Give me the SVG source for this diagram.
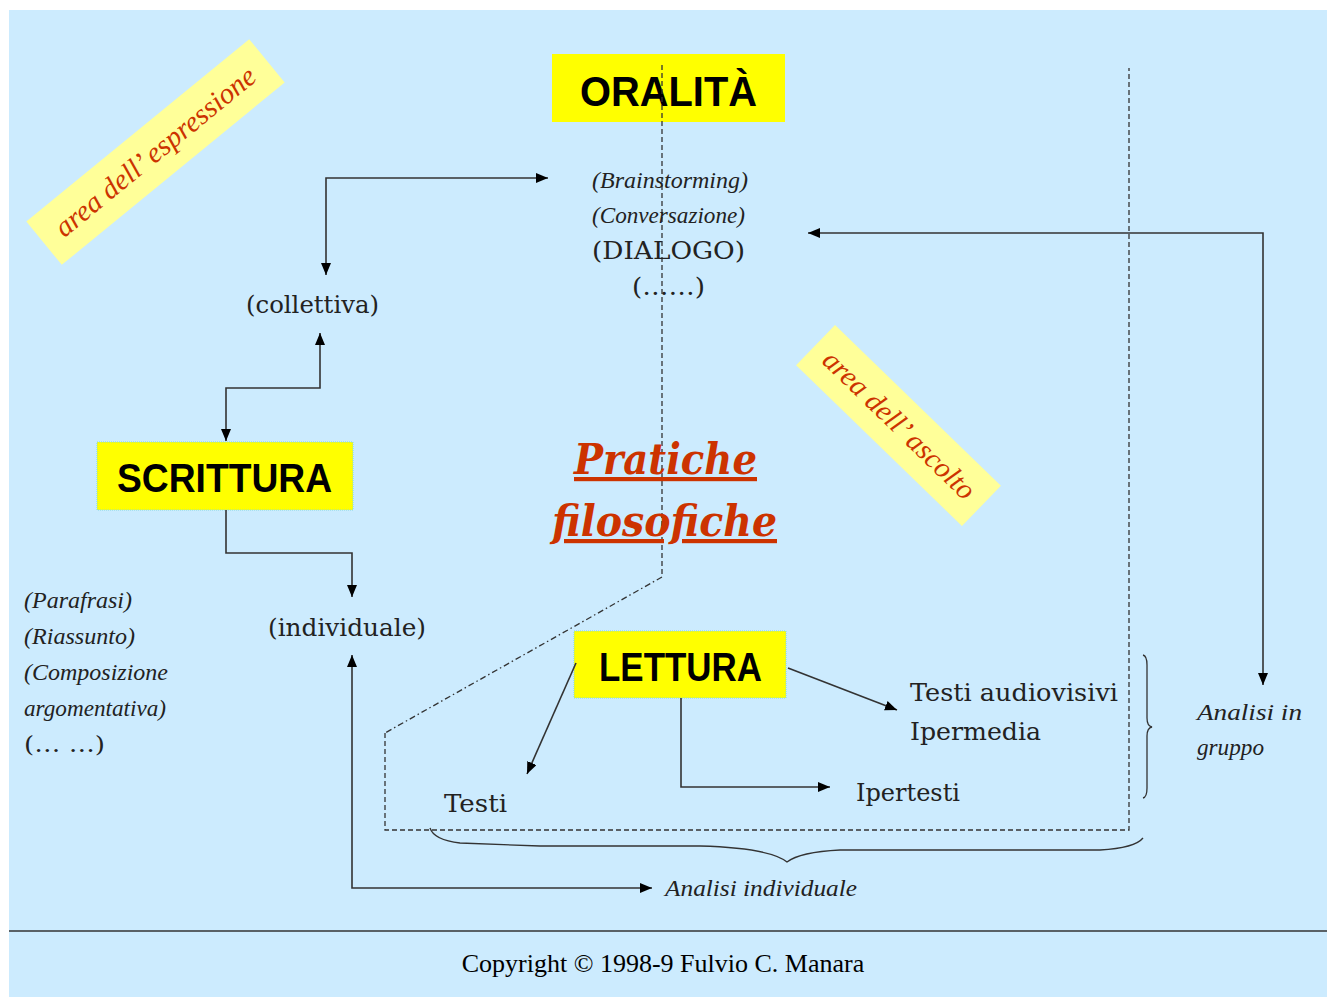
<svg xmlns="http://www.w3.org/2000/svg" width="1327" height="998" viewBox="0 0 1327 998">
<style>
.bg{fill:#CCEBFE}
.box{fill:#FFFF00}
.boxd{fill:#FFFF00;stroke:#7FD8E0;stroke-width:1;stroke-dasharray:1 1}
.tag{fill:#FFFF99}
.h{font-family:"Liberation Sans",Arial,sans-serif;font-weight:bold;fill:#000}
.s{font-family:"DejaVu Serif","Liberation Serif",serif;fill:#222}
.i{font-family:"Liberation Serif","Times New Roman",serif;font-style:italic;fill:#222}
.red{font-family:"DejaVu Serif","Liberation Serif",serif;font-style:italic;font-weight:bold;fill:#CC3300;text-decoration:underline}
.scr{font-family:"Liberation Serif",serif;font-style:italic;fill:#CC3300}
.ln{fill:none;stroke:#333;stroke-width:1.6}
.dash{fill:none;stroke:#333;stroke-width:1.3;stroke-dasharray:5 3}
.dd{fill:none;stroke:#333;stroke-width:1.3;stroke-dasharray:6 3 1.5 3}
.br{fill:none;stroke:#333;stroke-width:1.3}
</style>
<defs>
<marker id="a" viewBox="0 0 12 10" refX="12" refY="5" markerWidth="12" markerHeight="10" markerUnits="userSpaceOnUse" orient="auto-start-reverse">
<path d="M0,0 L12,5 L0,10 Z" fill="#000"/>
</marker>
</defs>
<rect x="0" y="0" width="1327" height="998" fill="#fff"/>
<rect class="bg" x="9" y="10" width="1318" height="987"/>
<line x1="9" y1="931" x2="1327" y2="931" stroke="#333" stroke-width="1.5"/>
<text x="663" y="972" font-family="'Liberation Serif','Times New Roman',serif" font-size="26" text-anchor="middle" fill="#000">Copyright © 1998-9 Fulvio C. Manara</text>

<g id="tag-espressione">
<rect class="tag" x="11.5" y="124" width="288" height="56" transform="rotate(-39.3 155.5 152)"/>
<text class="scr" x="155.5" y="161" font-size="29" text-anchor="middle" transform="rotate(-39.3 155.5 152)">area dell’ espressione</text>
</g>
<g id="tag-ascolto">
<rect class="tag" x="783" y="397.5" width="231" height="56" transform="rotate(44.1 898.5 425.5)"/>
<text class="scr" x="898.5" y="434" font-size="29" text-anchor="middle" transform="rotate(44.1 898.5 425.5)">area dell’ ascolto</text>
</g>

<g id="oralita">
<rect class="box" x="552" y="54" width="233" height="68"/>
<text class="h" x="580" y="106" font-size="42" textLength="177" lengthAdjust="spacingAndGlyphs">ORALITÀ</text>
</g>
<g id="scrittura">
<rect class="boxd" x="97" y="442" width="256" height="68"/>
<text class="h" x="117" y="492" font-size="40" textLength="215" lengthAdjust="spacingAndGlyphs">SCRITTURA</text>
</g>
<g id="lettura">
<rect class="boxd" x="574" y="631" width="212" height="67"/>
<text class="h" x="599" y="681" font-size="40" textLength="163" lengthAdjust="spacingAndGlyphs">LETTURA</text>
</g>

<g id="boundaries">
<path class="dash" d="M662,65 V577"/>
<path class="dd" d="M662,577 L385,733"/>
<path class="dash" d="M385,733 V830 H1129 V68"/>
<path class="br" d="M1143,655 Q1147,656 1147,665 V718 Q1147,726 1152,727 Q1147,728 1147,736 V788 Q1147,797 1143,798"/>
<path class="br" d="M430,828 Q434,840 460,843 L540,846 L700,846 Q770,848 787,862 Q800,852 840,850 L1100,850 Q1135,848 1143,838"/>
</g>

<g id="connectors">
<path class="ln" d="M548,178 H326 V275" marker-start="url(#a)" marker-end="url(#a)"/>
<path class="ln" d="M320,333 V388 H226 V441" marker-start="url(#a)" marker-end="url(#a)"/>
<path class="ln" d="M226,510 V553 H352 V597" marker-end="url(#a)"/>
<path class="ln" d="M352,655 V888 H652" marker-start="url(#a)" marker-end="url(#a)"/>
<path class="ln" d="M808,233 H1263 V685" marker-start="url(#a)" marker-end="url(#a)"/>
<path class="ln" d="M576,663 L527,774" marker-end="url(#a)"/>
<path class="ln" d="M788,668 L897,710" marker-end="url(#a)"/>
<path class="ln" d="M681,698 V787 H830" marker-end="url(#a)"/>
</g>

<g id="oralita-items">
<text class="i" x="592" y="188" font-size="24" textLength="156" lengthAdjust="spacingAndGlyphs">(Brainstorming)</text>
<text class="i" x="592" y="223" font-size="24" textLength="153" lengthAdjust="spacingAndGlyphs">(Conversazione)</text>
<text class="s" x="592" y="259" font-size="24" textLength="153" lengthAdjust="spacingAndGlyphs">(DIALOGO)</text>
<text class="s" x="632" y="295" font-size="24" textLength="73" lengthAdjust="spacingAndGlyphs">(……)</text>
</g>
<g id="collettiva"><text class="s" x="246" y="313" font-size="25" textLength="133" lengthAdjust="spacingAndGlyphs">(collettiva)</text></g>
<g id="individuale"><text class="s" x="268" y="636" font-size="25" textLength="158" lengthAdjust="spacingAndGlyphs">(individuale)</text></g>
<g id="scrittura-items">
<text class="i" x="24" y="608" font-size="24" textLength="108" lengthAdjust="spacingAndGlyphs">(Parafrasi)</text>
<text class="i" x="24" y="644" font-size="24" textLength="111" lengthAdjust="spacingAndGlyphs">(Riassunto)</text>
<text class="i" x="24" y="680" font-size="24" textLength="144" lengthAdjust="spacingAndGlyphs">(Composizione</text>
<text class="i" x="24" y="716" font-size="24" textLength="142" lengthAdjust="spacingAndGlyphs">argomentativa)</text>
<text class="s" x="24" y="752" font-size="23" textLength="81" lengthAdjust="spacingAndGlyphs">(… …)</text>
</g>
<g id="pratiche">
<text class="red" x="574" y="474" font-size="42" textLength="183" lengthAdjust="spacingAndGlyphs">Pratiche</text>
<text class="red" x="552" y="536" font-size="42" textLength="225" lengthAdjust="spacingAndGlyphs">filosofiche</text>
</g>
<g id="testi"><text class="s" x="444" y="812" font-size="25" textLength="63" lengthAdjust="spacingAndGlyphs">Testi</text></g>
<g id="audiovisivi">
<text class="s" x="910" y="701" font-size="25" textLength="208" lengthAdjust="spacingAndGlyphs">Testi audiovisivi</text>
<text class="s" x="910" y="740" font-size="25" textLength="131" lengthAdjust="spacingAndGlyphs">Ipermedia</text>
</g>
<g id="ipertesti"><text class="s" x="856" y="801" font-size="25" textLength="104" lengthAdjust="spacingAndGlyphs">Ipertesti</text></g>
<g id="analisi-gruppo">
<text class="i" x="1197" y="720" font-size="24" textLength="105" lengthAdjust="spacingAndGlyphs">Analisi in</text>
<text class="i" x="1197" y="755" font-size="24" textLength="67" lengthAdjust="spacingAndGlyphs">gruppo</text>
</g>
<g id="analisi-individuale"><text class="i" x="665" y="896" font-size="24" textLength="192" lengthAdjust="spacingAndGlyphs">Analisi individuale</text></g>
</svg>
